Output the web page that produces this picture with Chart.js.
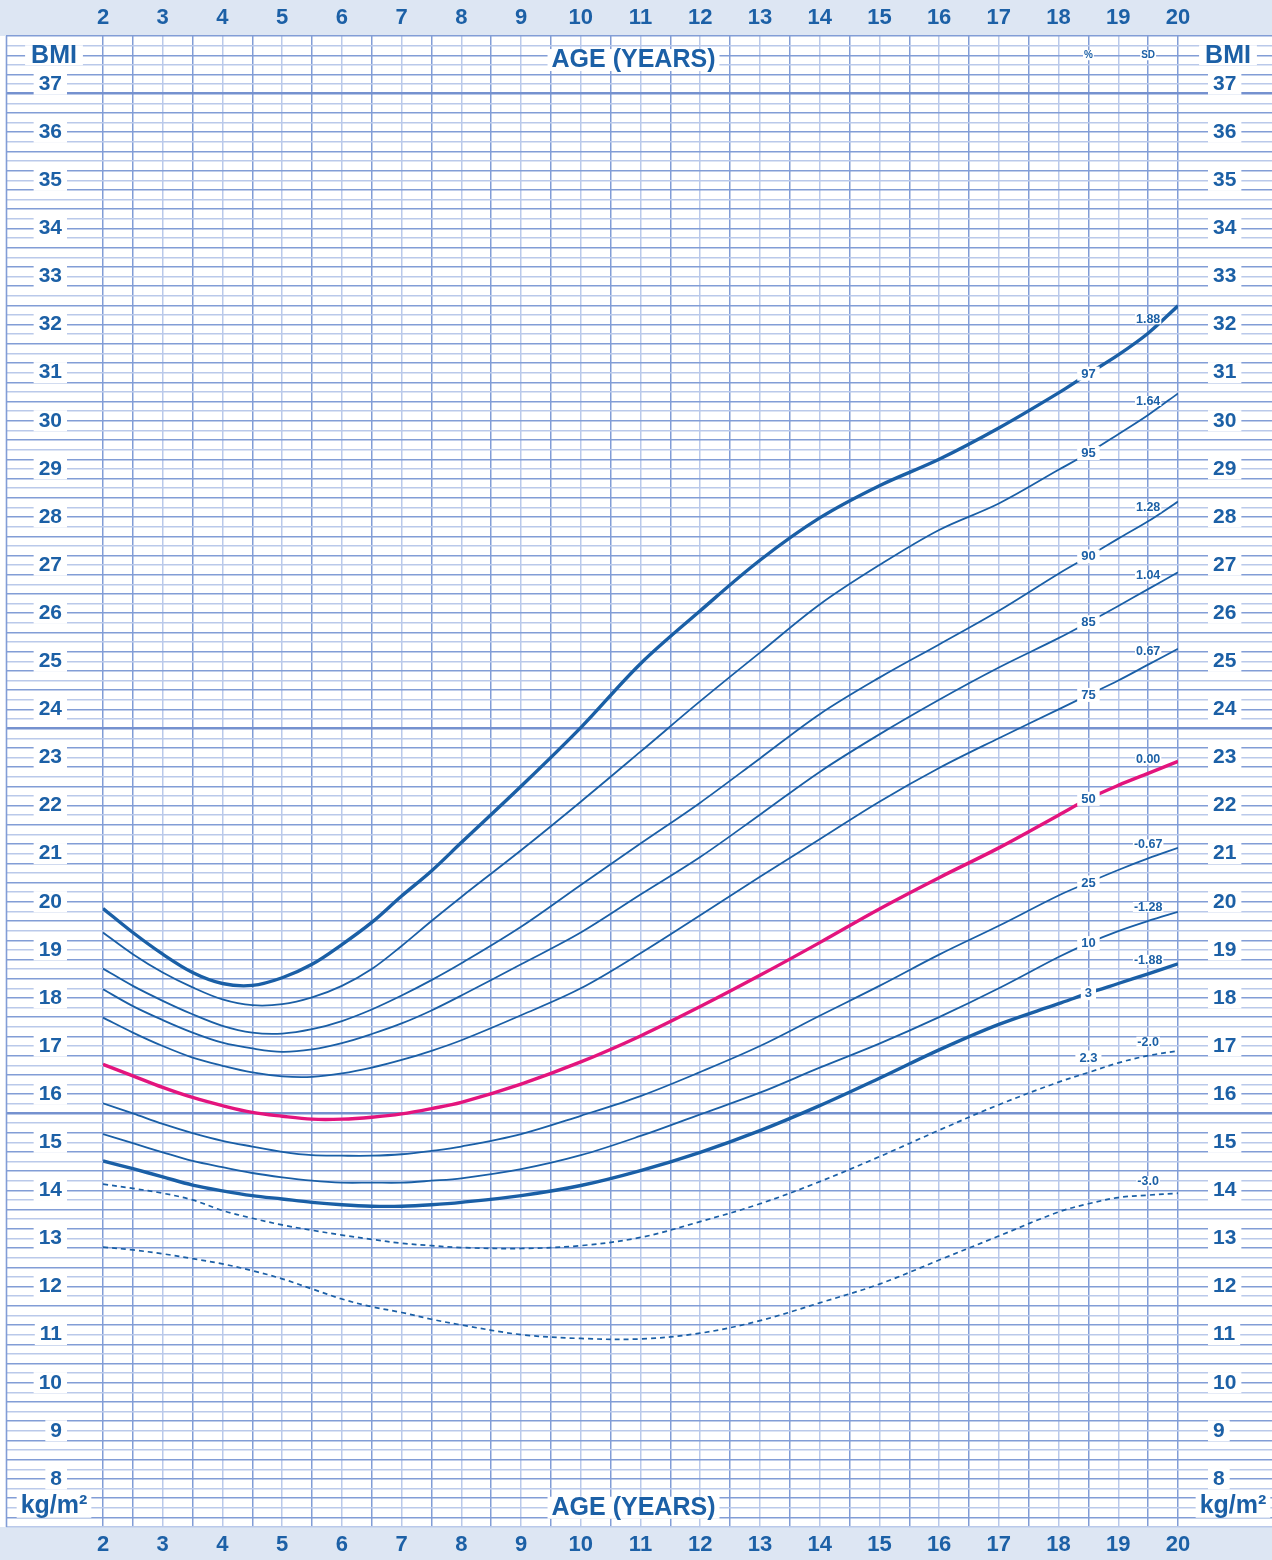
<!DOCTYPE html>
<html><head><meta charset="utf-8">
<script src="https://cdn.jsdelivr.net/npm/chart.js@4.4.0/dist/chart.umd.min.js"></script>
<style>html,body{margin:0;padding:0;background:#fff;}#wrap{width:1272px;height:1560px;position:relative;}</style>
</head><body><div id="wrap"><canvas id="c"></canvas></div>
<script>
// ---------- DATA ----------
const AGES = [2, 2.5, 3, 3.5, 4, 4.5, 5, 5.5, 6, 6.5, 7, 7.5, 8, 9, 10, 11, 12, 13, 14, 15, 16, 17, 18, 18.5, 19, 19.5, 20];
const P97 = [19.86, 19.36, 18.91, 18.53, 18.30, 18.26, 18.42, 18.70, 19.11, 19.57, 20.12, 20.64, 21.23, 22.40, 23.62, 24.95, 26.05, 27.10, 27.98, 28.65, 29.20, 29.85, 30.58, 30.98, 31.37, 31.82, 32.39];
const P95 = [19.36, 18.91, 18.53, 18.22, 17.97, 17.85, 17.87, 18.01, 18.25, 18.60, 19.08, 19.60, 20.10, 21.07, 22.08, 23.12, 24.17, 25.18, 26.18, 27.00, 27.73, 28.28, 28.98, 29.33, 29.72, 30.12, 30.57];
const P90 = [18.61, 18.25, 17.94, 17.66, 17.42, 17.28, 17.26, 17.35, 17.52, 17.76, 18.05, 18.37, 18.72, 19.48, 20.35, 21.21, 22.06, 22.98, 23.90, 24.66, 25.35, 26.05, 26.82, 27.18, 27.55, 27.91, 28.32];
const P85 = [18.18, 17.83, 17.54, 17.28, 17.07, 16.95, 16.88, 16.93, 17.06, 17.25, 17.47, 17.74, 18.05, 18.70, 19.36, 20.15, 20.93, 21.81, 22.70, 23.48, 24.20, 24.87, 25.48, 25.81, 26.15, 26.50, 26.85];
const P75 = [17.59, 17.28, 17.00, 16.76, 16.59, 16.45, 16.37, 16.36, 16.43, 16.55, 16.71, 16.90, 17.12, 17.64, 18.20, 18.93, 19.72, 20.52, 21.30, 22.08, 22.78, 23.40, 24.00, 24.30, 24.60, 24.93, 25.26];
const P50 = [16.62, 16.38, 16.14, 15.93, 15.76, 15.62, 15.54, 15.48, 15.48, 15.52, 15.59, 15.70, 15.83, 16.21, 16.67, 17.21, 17.82, 18.47, 19.15, 19.85, 20.50, 21.12, 21.80, 22.14, 22.42, 22.67, 22.92];
const P25 = [15.81, 15.60, 15.38, 15.19, 15.03, 14.91, 14.80, 14.73, 14.72, 14.72, 14.75, 14.82, 14.91, 15.17, 15.55, 15.96, 16.46, 17.00, 17.63, 18.25, 18.90, 19.50, 20.13, 20.40, 20.66, 20.90, 21.12];
const P10 = [15.17, 14.98, 14.79, 14.61, 14.48, 14.36, 14.27, 14.20, 14.16, 14.16, 14.16, 14.20, 14.25, 14.44, 14.73, 15.13, 15.58, 16.03, 16.55, 17.05, 17.60, 18.20, 18.85, 19.14, 19.39, 19.60, 19.79];
const P3  = [14.61, 14.45, 14.28, 14.11, 13.99, 13.89, 13.82, 13.75, 13.70, 13.67, 13.67, 13.70, 13.75, 13.89, 14.10, 14.41, 14.79, 15.24, 15.76, 16.33, 16.92, 17.45, 17.88, 18.10, 18.30, 18.50, 18.71];
const SDM2 = [14.13, 14.04, 13.94, 13.80, 13.58, 13.42, 13.28, 13.17, 13.07, 12.98, 12.90, 12.85, 12.81, 12.79, 12.85, 13.02, 13.35, 13.72, 14.18, 14.70, 15.25, 15.78, 16.25, 16.45, 16.65, 16.80, 16.90];
const SDM3 = [12.82, 12.76, 12.68, 12.58, 12.47, 12.33, 12.16, 11.95, 11.74, 11.58, 11.46, 11.32, 11.20, 11.00, 10.92, 10.91, 11.03, 11.29, 11.66, 12.05, 12.55, 13.05, 13.55, 13.72, 13.85, 13.90, 13.94];

const PCT_LABELS = ['97', '95', '90', '85', '75', '50', '25', '10', '3', '2.3', ''];
const SD_LABELS = ['1.88', '1.64', '1.28', '1.04', '0.67', '0.00', '-0.67', '-1.28', '-1.88', '-2.0', '-3.0'];
const X_TICK_LABELS = ['2','3','4','5','6','7','8','9','10','11','12','13','14','15','16','17','18','19','20'];
const Y_TICK_LABELS = ['8','9','10','11','12','13','14','15','16','17','18','19','20','21','22','23','24','25','26','27','28','29','30','31','32','33','34','35','36','37'];
const AXIS_TITLE = 'AGE (YEARS)';
const Y_TITLE_TOP = 'BMI';
const Y_TITLE_BOTTOM = 'kg/m²';

// ---------- STYLE ----------
const BLUE = '#1a5fa6';
const PINK = '#e3147d';
const TXT = '#1c60a6';
const GRID_DARK = '#829dd6';
const GRID_LIGHT = '#bac9ea';
const GRID_THICK = '#7591cf';
const THICK_LINES = [36.8, 23.6, 15.6];
const FONT = '"Liberation Sans", Arial, Helvetica, sans-serif';

const SERIES = [
  {data: P97, color: BLUE, width: 3.4, dash: []},
  {data: P95, color: BLUE, width: 1.8, dash: []},
  {data: P90, color: BLUE, width: 1.8, dash: []},
  {data: P85, color: BLUE, width: 1.8, dash: []},
  {data: P75, color: BLUE, width: 1.8, dash: []},
  {data: P50, color: PINK, width: 3.4, dash: []},
  {data: P25, color: BLUE, width: 1.8, dash: []},
  {data: P10, color: BLUE, width: 1.8, dash: []},
  {data: P3,  color: BLUE, width: 3.4, dash: []},
  {data: SDM2, color: BLUE, width: 1.7, dash: [5, 4]},
  {data: SDM3, color: BLUE, width: 1.7, dash: [5, 4]}
];
const PCT_OFFSET = [0,0,0,0,0,0,0,0,0,-15,0];

const Y_GRID = Array.from({length: 156}, (_, k) => Math.round((7 + k * 0.2) * 10) / 10);
const X_GRID = Array.from({length: 37}, (_, k) => 2 + k * 0.5);

function yLabel(v) {
  const s = String(Math.round(v));
  return (Math.abs(v - Math.round(v)) < 1e-6 && Y_TICK_LABELS.includes(s)) ? s : '';
}
function xLabel(v) {
  const s = String(Math.round(v));
  return (Math.abs(v - Math.round(v)) < 1e-6 && X_TICK_LABELS.includes(s)) ? s : '';
}
function isThick(v) { return THICK_LINES.some(t => Math.abs(t - v) < 1e-6); }
function yGridColor(ctx) {
  const v = ctx.tick.value;
  if (isThick(v)) return GRID_THICK;
  const k = Math.round((v - 7) * 5);
  return (k % 2 === 1) ? GRID_DARK : GRID_LIGHT;
}
function yGridWidth(ctx) { return isThick(ctx.tick.value) ? 2.6 : 1.4; }
function xGridColor(ctx) {
  const v = ctx.tick.value;
  if (v === 2 || v === 20) return GRID_DARK;
  return (Math.abs(v - Math.round(v)) < 1e-6) ? GRID_LIGHT : GRID_DARK;
}

const datasets = SERIES.map(s => ({
  data: AGES.map((a, i) => ({x: a, y: s.data[i]})),
  borderColor: s.color,
  borderWidth: s.width,
  borderDash: s.dash,
  pointRadius: 0,
  fill: false,
  tension: 0.35,
  xAxisID: 'x',
  yAxisID: 'y'
}));

function boxText(ctx, text, x, y, font, padX, h) {
  ctx.font = font;
  const w = ctx.measureText(text).width + padX * 2;
  ctx.fillStyle = '#ffffff';
  ctx.fillRect(x - w / 2, y - h / 2, w, h);
  ctx.fillStyle = TXT;
  ctx.textAlign = 'center';
  ctx.textBaseline = 'middle';
  ctx.fillText(text, x, y + 0.5);
}

const decor = {
  id: 'decor',
  beforeDraw(chart) {
    const {ctx, chartArea} = chart;
    ctx.save();
    ctx.fillStyle = '#dde6f3';
    ctx.fillRect(0, 0, chart.width, chartArea.top);
    ctx.fillRect(0, chartArea.bottom, chart.width, chart.height - chartArea.bottom);
    ctx.restore();
  },
  afterDatasetsDraw(chart) {
    const {ctx, chartArea} = chart;
    const xs = chart.scales.x, ys = chart.scales.y;
    ctx.save();
    ctx.strokeStyle = GRID_DARK; ctx.lineWidth = 1.6;
    ctx.beginPath(); ctx.moveTo(6.5, chartArea.top); ctx.lineTo(6.5, chartArea.bottom); ctx.stroke();

    const i185 = AGES.indexOf(18.5), i195 = AGES.indexOf(19.5);
    SERIES.forEach((s, i) => {
      if (PCT_LABELS[i]) {
        boxText(ctx, PCT_LABELS[i], xs.getPixelForValue(18.5), ys.getPixelForValue(s.data[i185]) + PCT_OFFSET[i], 'bold 13px ' + FONT, 4, 14);
      }
      if (SD_LABELS[i]) {
        boxText(ctx, SD_LABELS[i], xs.getPixelForValue(19.5), ys.getPixelForValue(s.data[i195]) - 14, 'bold 12.5px ' + FONT, 1, 10);
      }
    });
    boxText(ctx, '%', xs.getPixelForValue(18.5), ys.getPixelForValue(37.6), 'bold 10px ' + FONT, 1, 10);
    boxText(ctx, 'SD', xs.getPixelForValue(19.5), ys.getPixelForValue(37.6), 'bold 10px ' + FONT, 1, 10);
    const cx = (chartArea.left + chartArea.right) / 2 - 7;
    boxText(ctx, AXIS_TITLE, cx, ys.getPixelForValue(37.5), 'bold 25px ' + FONT, 4, 22);
    boxText(ctx, AXIS_TITLE, cx, ys.getPixelForValue(7.4), 'bold 25px ' + FONT, 4, 22);
    boxText(ctx, Y_TITLE_TOP, 54, ys.getPixelForValue(37.6), 'bold 25px ' + FONT, 6, 20);
    boxText(ctx, Y_TITLE_TOP, 1228, ys.getPixelForValue(37.6), 'bold 25px ' + FONT, 6, 20);
    boxText(ctx, Y_TITLE_BOTTOM, 54, ys.getPixelForValue(7.4) - 2, 'bold 25px ' + FONT, 4, 24);
    boxText(ctx, Y_TITLE_BOTTOM, 1233, ys.getPixelForValue(7.4) - 2, 'bold 25px ' + FONT, 4, 24);
    ctx.restore();
  }
};

const yTicksCommon = {
  autoSkip: false,
  color: TXT,
  font: {family: FONT, size: 21, weight: 'bold', lineHeight: 0.82},
  showLabelBackdrop: true,
  backdropColor: (ctx) => (ctx.tick && ctx.tick.label) ? '#ffffff' : 'rgba(0,0,0,0)',
  backdropPadding: {x: 5, y: 2},
  callback: (v) => yLabel(v)
};
const xTicksCommon = {
  autoSkip: false,
  maxRotation: 0,
  color: TXT,
  font: {family: FONT, size: 22, weight: 'bold', lineHeight: 1.2},
  padding: 5,
  callback: (v) => xLabel(v)
};

new Chart(document.getElementById('c'), {
  type: 'line',
  data: {datasets},
  options: {
    responsive: true,
    maintainAspectRatio: false,
    animation: false,
    devicePixelRatio: 1,
    layout: {padding: {left: 6, right: 0, top: 0, bottom: 0}},
    plugins: {legend: {display: false}, tooltip: {enabled: false}},
    scales: {
      x: {
        type: 'linear', position: 'bottom', min: 2, max: 20,
        afterBuildTicks: (s) => { s.ticks = X_GRID.map(v => ({value: v})); },
        afterFit: (s) => { s.height = 33; },
        grid: {color: xGridColor, lineWidth: 1.5, drawTicks: false},
        border: {display: false},
        ticks: xTicksCommon
      },
      x2: {
        type: 'linear', position: 'top', min: 2, max: 20,
        afterBuildTicks: (s) => { s.ticks = X_GRID.map(v => ({value: v})); },
        afterFit: (s) => { s.height = 36; },
        grid: {display: false, drawTicks: false},
        border: {display: false},
        ticks: xTicksCommon
      },
      y: {
        type: 'linear', position: 'left', min: 7, max: 38,
        afterBuildTicks: (s) => { s.ticks = Y_GRID.map(v => ({value: v})); },
        afterFit: (s) => { s.width = 97; },
        grid: {color: yGridColor, lineWidth: yGridWidth, drawTicks: true, tickLength: 97},
        border: {display: false},
        ticks: Object.assign({}, yTicksCommon, {crossAlign: 'near', padding: -56})
      },
      y2: {
        type: 'linear', position: 'right', min: 7, max: 38,
        afterBuildTicks: (s) => { s.ticks = Y_GRID.map(v => ({value: v})); },
        afterFit: (s) => { s.width = 94; },
        grid: {color: yGridColor, lineWidth: yGridWidth, drawTicks: true, tickLength: 94, drawOnChartArea: false},
        border: {display: false},
        ticks: Object.assign({}, yTicksCommon, {crossAlign: 'near', padding: -59})
      }
    }
  },
  plugins: [decor]
});
</script>
</body></html>
